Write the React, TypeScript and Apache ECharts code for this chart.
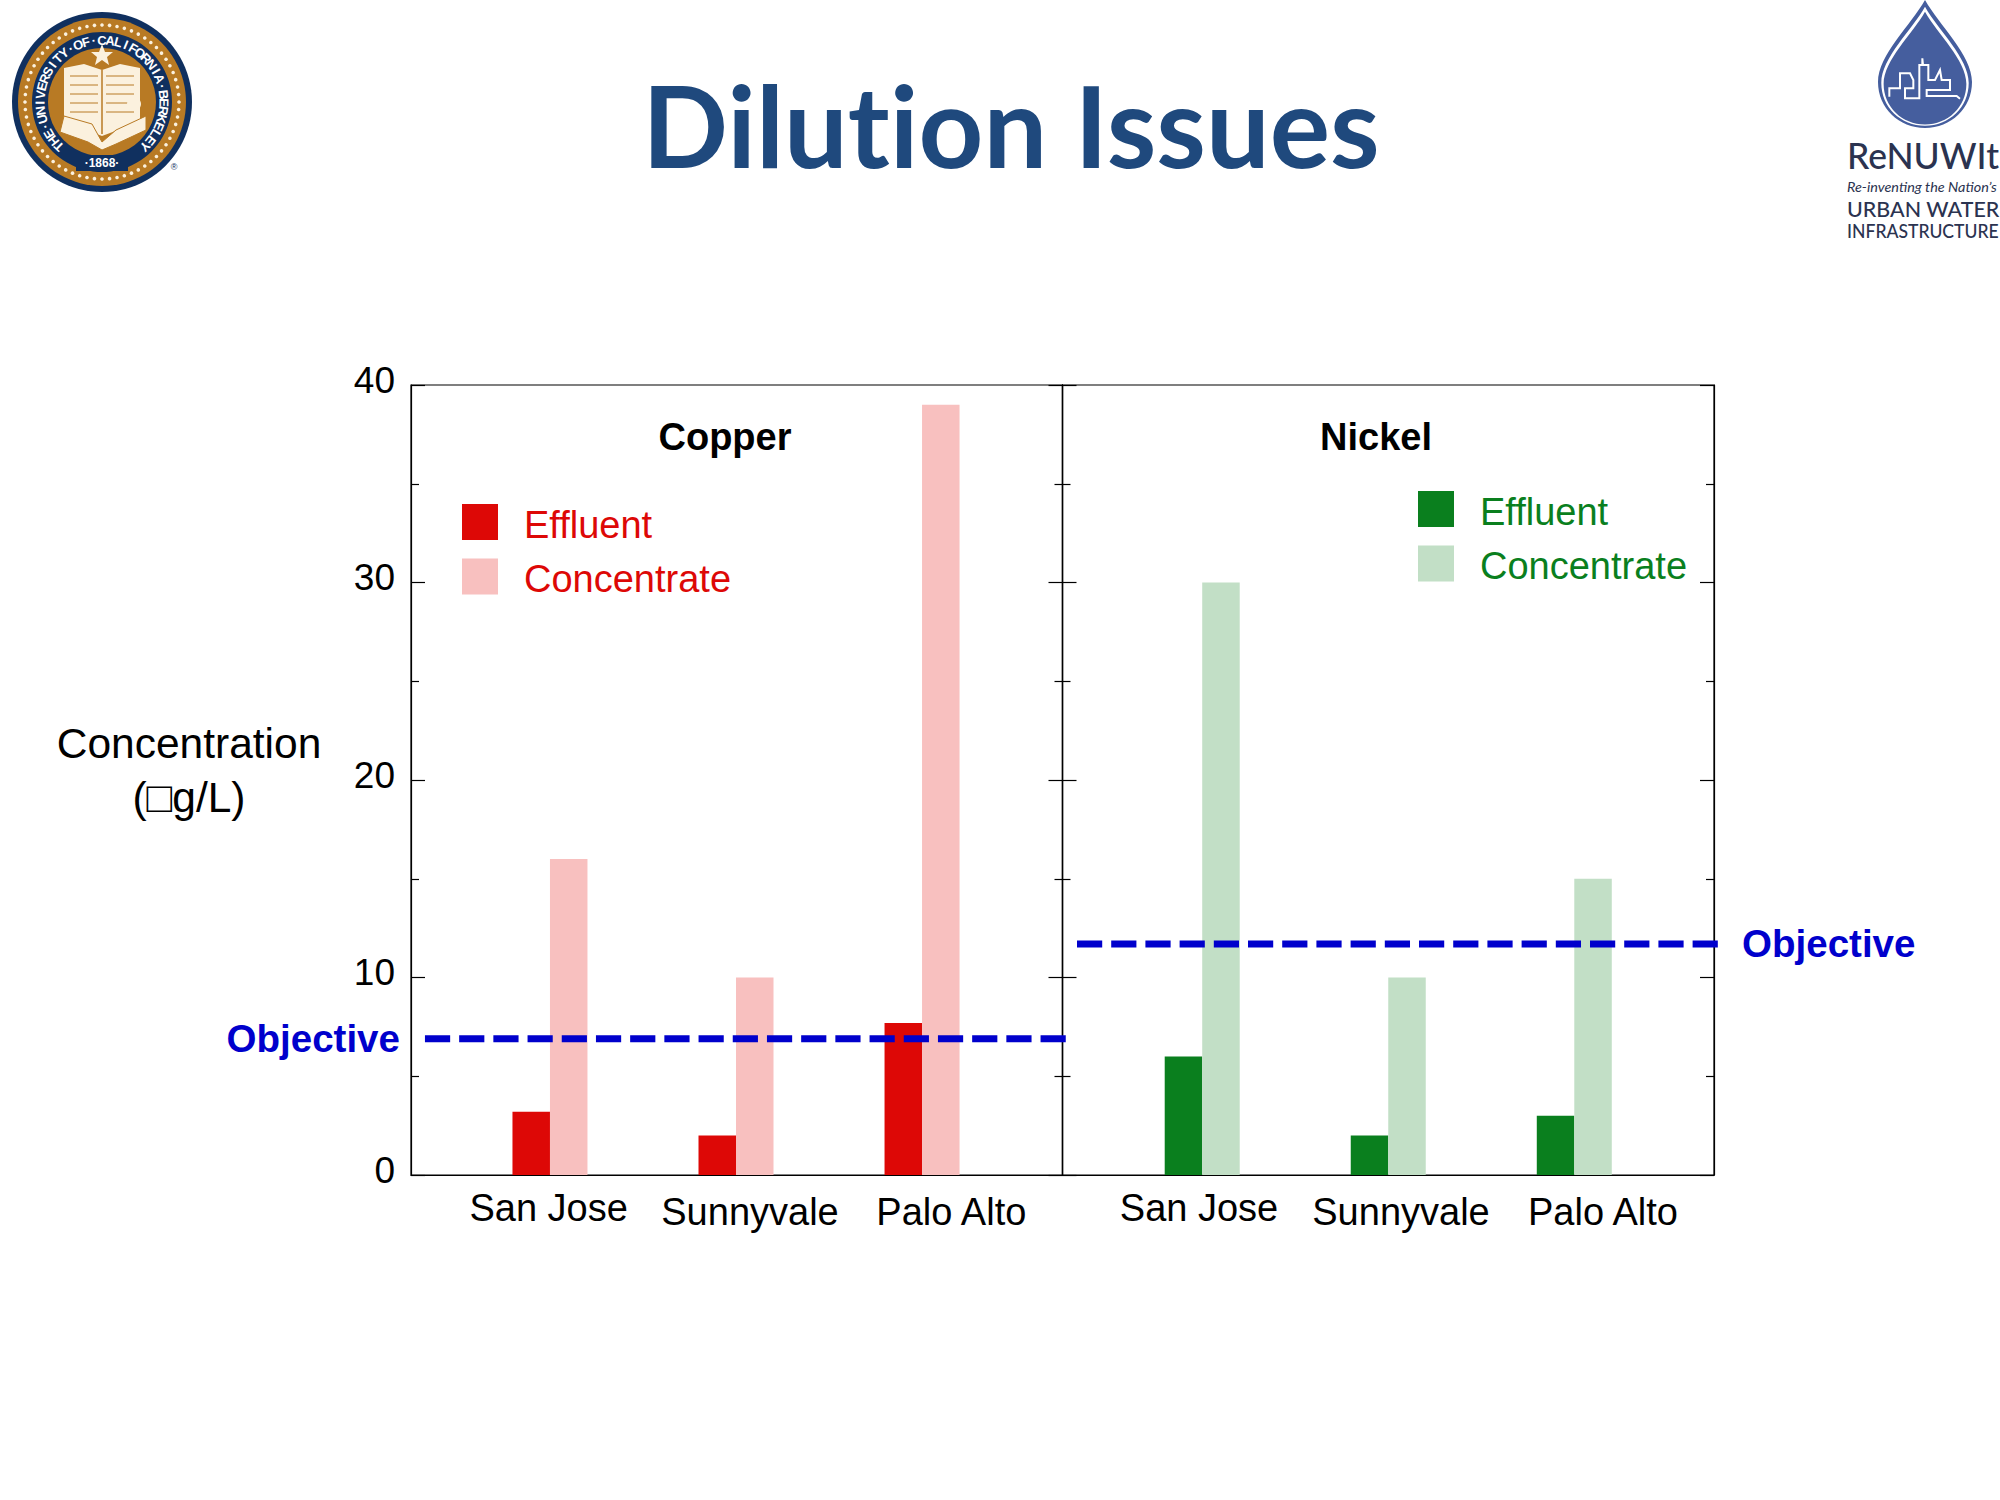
import React, { useEffect, useRef } from "react";
import * as echarts from "echarts";

const CITIES = ["San Jose", "Sunnyvale", "Palo Alto"];
const BAR_POSITIONS = [1, 2, 3];
const COPPER_EFFLUENT = [3.2, 2, 7.7];
const COPPER_CONCENTRATE = [16, 10, 39];
const NICKEL_EFFLUENT = [6, 2, 3];
const NICKEL_CONCENTRATE = [30, 10, 15];
const COPPER_OBJECTIVE = 6.9;
const NICKEL_OBJECTIVE = 11.7;
const OBJECTIVE_SPAN_COPPER = [0.328, 3.775];
const OBJECTIVE_SPAN_NICKEL = [0.327, 3.773];
const Y_MIN = 0;
const Y_MAX = 40;
const Y_STEP = 10;
const SEAL_TEXT = "THE·UNIVERSITY·OF·CALIFORNIA·BERKELEY";
const SKYLINE = [
  [268, 290], [268, 265], [300, 265], [300, 220], [330, 220], [340, 240], [340, 265], [315, 265], [315, 295],
  [358, 295], [358, 195], [367, 195], [367, 175], [369, 195], [385, 195], [385, 240], [405, 240], [420, 210],
  [425, 240], [450, 240], [450, 270], [380, 270], [380, 288], [470, 288], [480, 296],
];

const RED = "#DD0806";
const PINK = "#F8C0BF";
const GREEN = "#0A7F1E";
const LIGHT_GREEN = "#C2DFC6";
const BLUE = "#0000CC";
const FONT = "Liberation Sans";
const NAVY = "#10305F";
const GOLD = "#B87A24";
const CREAM = "#FBF1DE";
const DROP = "#455E9E";
const INK = "#2B3350";

echarts.graphic.registerShape(
  "dropShape",
  echarts.graphic.extendPath(
    "M0 -82 C-14 -57 -47 -27 -47 0 C-47 26 -26 46 0 46 C26 46 47 26 47 0 C47 -27 14 -57 0 -82 Z",
    {}
  )
);

function sealGraphic() {
  const cx = 102;
  const cy = 102;
  const els: any[] = [
    { type: "circle", shape: { cx, cy, r: 90 }, style: { fill: NAVY } },
    { type: "circle", shape: { cx, cy, r: 84 }, style: { fill: GOLD } },
    { type: "circle", shape: { cx, cy, r: 70 }, style: { fill: NAVY } },
    { type: "circle", shape: { cx, cy, r: 54 }, style: { fill: GOLD } },
  ];
  for (let i = 0; i < 64; i++) {
    const a = (i / 64) * Math.PI * 2;
    els.push({
      type: "circle",
      shape: { cx: cx + 77 * Math.cos(a), cy: cy + 77 * Math.sin(a), r: 1.8 },
      style: { fill: CREAM },
    });
  }
  const chars = SEAL_TEXT.split("");
  chars.forEach((c, i) => {
    const deg = -136 + (272 * i) / (chars.length - 1);
    const a = (deg * Math.PI) / 180;
    els.push({
      type: "text",
      x: cx + 62 * Math.sin(a),
      y: cy - 62 * Math.cos(a),
      rotation: -a,
      style: {
        text: c, fill: "#FFFFFF", font: `bold 13px ${FONT}`, align: "center", verticalAlign: "middle",
      },
    });
  });
  els.push(
    { type: "polygon", shape: { points: [[64, 68], [84, 64], [102, 70], [120, 64], [140, 68], [140, 132], [118, 130], [102, 136], [86, 130], [64, 132]] }, style: { fill: CREAM } },
    { type: "line", shape: { x1: 102, y1: 70, x2: 102, y2: 134 }, style: { stroke: GOLD, lineWidth: 1.5 } },
    { type: "polygon", shape: { points: [[102, 44], [105, 52], [113, 52], [107, 57], [109, 65], [102, 60], [95, 65], [97, 57], [91, 52], [99, 52]] }, style: { fill: CREAM } }
  );
  for (let i = 0; i < 5; i++) {
    const y = 76 + i * 9;
    els.push(
      { type: "line", shape: { x1: 70, y1: y, x2: 98, y2: y }, style: { stroke: GOLD, lineWidth: 1 } },
      { type: "line", shape: { x1: 106, y1: y, x2: 134, y2: y }, style: { stroke: GOLD, lineWidth: 1 } }
    );
  }
  els.push(
    { type: "polygon", shape: { points: [[64, 116], [92, 124], [102, 142], [116, 130], [146, 116], [146, 130], [116, 144], [102, 150], [88, 142], [60, 132]] }, style: { fill: CREAM, stroke: GOLD, lineWidth: 1 } },
    { type: "circle", shape: { cx: 134, cy: 104, r: 7 }, style: { fill: CREAM } },
    { type: "rect", shape: { x: 76, y: 155, width: 52, height: 16 }, style: { fill: NAVY } },
    { type: "text", x: 102, y: 163, style: { text: "·1868·", fill: "#FFFFFF", font: `bold 12px ${FONT}`, align: "center", verticalAlign: "middle" } },
    { type: "text", x: 174, y: 167, style: { text: "®", fill: NAVY, font: `9px ${FONT}`, align: "center", verticalAlign: "middle" } }
  );
  return els;
}

function renuwitGraphic() {
  const left = 1847;
  const ox = 1800;
  const skyline = SKYLINE.map(([x, y]) => [ox + x / 3, y / 3]);
  const base = { x: 1925, y: 82 };
  const txt = (text: string, y: number, font: string, scaleX: number) => ({
    type: "text",
    x: left,
    y,
    scaleX,
    style: { text, fill: INK, font, align: "left", verticalAlign: "middle" },
  });
  return [
    { type: "dropShape", ...base, style: { fill: DROP } },
    { type: "dropShape", ...base, y: 83, scaleX: 0.93, scaleY: 0.93, style: { fill: "#FFFFFF" } },
    { type: "dropShape", ...base, y: 84, scaleX: 0.88, scaleY: 0.88, style: { fill: DROP } },
    { type: "polyline", shape: { points: skyline }, style: { stroke: "#FFFFFF", lineWidth: 2, fill: null } },
    txt("ReNUWIt", 155, "500 36px Lato", 0.985),
    txt("Re-inventing the Nation’s", 187, "italic 13px Lato", 1.11),
    txt("URBAN WATER", 209, "500 22px Lato", 0.975),
    txt("INFRASTRUCTURE", 231, "500 19px Lato", 0.925),
  ];
}

const tickLine = { color: "#000", width: 1.2 };

function yAxis(gridIndex: number, position: string, labels: boolean) {
  return {
    type: "value",
    gridIndex,
    position,
    min: Y_MIN,
    max: Y_MAX,
    interval: Y_STEP,
    splitLine: { show: false },
    axisLine: { show: true, onZero: false, lineStyle: tickLine },
    axisTick: { show: true, inside: true, length: 14, lineStyle: tickLine },
    minorTick: { show: true, splitNumber: 2, length: 8, lineStyle: tickLine },
    axisLabel: {
      show: labels, color: "#000", fontFamily: FONT, fontSize: 37, margin: 16, verticalAlign: "bottom", lineHeight: 10,
    },
  };
}

function barX(gridIndex: number, min: number) {
  return {
    type: "value",
    gridIndex,
    min,
    max: min + 3.502,
    axisLine: { show: true, onZero: false, lineStyle: tickLine },
    axisTick: { show: false },
    axisLabel: { show: false },
    splitLine: { show: false },
  };
}

function labelX(gridIndex: number) {
  return {
    type: "category",
    gridIndex,
    data: CITIES,
    axisLine: { show: false },
    axisTick: { show: false },
    axisLabel: {
      color: "#000",
      fontFamily: FONT,
      fontSize: 38,
      margin: 18,
      interval: 0,
      formatter: (v: string) => (v === CITIES[0] ? `{up|${v}}` : v),
      rich: { up: { color: "#000", fontFamily: FONT, fontSize: 38, lineHeight: 30 } },
    },
  };
}

function bars(name: string, values: number[], color: string, axis: number) {
  return {
    name,
    type: "bar",
    xAxisIndex: axis,
    yAxisIndex: axis * 2,
    barWidth: 37.5,
    barGap: "0%",
    itemStyle: { color },
    data: values.map((v, i) => [BAR_POSITIONS[i], v]),
  };
}

function objective(value: number, span: number[], axis: number, side: string, distance: number) {
  const label = {
    show: true, position: side, distance, formatter: "Objective", color: BLUE, fontFamily: FONT, fontWeight: "bold", fontSize: 38.5,
  };
  const first = side === "left";
  return {
    name: "Objective",
    type: "line",
    xAxisIndex: axis,
    yAxisIndex: axis * 2,
    clip: false,
    z: 10,
    symbol: "circle",
    symbolSize: 0.01,
    showSymbol: true,
    lineStyle: { color: BLUE, width: 7, type: [25.2, 9] },
    itemStyle: { color: BLUE },
    data: [
      { value: [span[0], value], label: first ? label : { show: false } },
      { value: [span[1], value], label: first ? { show: false } : label },
    ],
  };
}

function legend(left: number, top: number, a: string, b: string, color: string) {
  return {
    left,
    top,
    orient: "vertical",
    icon: "rect",
    itemWidth: 36,
    itemHeight: 36,
    itemGap: 15,
    selectedMode: false,
    formatter: "{t|{name}}",
    textStyle: {
      color,
      fontFamily: FONT,
      fontSize: 38,
      rich: { t: { color, fontFamily: FONT, fontSize: 38, padding: [5, 0, 0, 21] } },
    },
    data: [
      { name: "Effluent", itemStyle: { color: a } },
      { name: "Concentrate", itemStyle: { color: b } },
    ],
  };
}

function panelTitle(text: string, left: number) {
  return {
    text,
    left,
    top: 413,
    textAlign: "center",
    textStyle: { color: "#000", fontFamily: FONT, fontWeight: "bold", fontSize: 38 },
  };
}

export default function App() {
  const ref = useRef<HTMLDivElement>(null);
  useEffect(() => {
    document.body.style.margin = "0";
    const chart = echarts.init(ref.current!, undefined, { renderer: "svg" });
    chart.setOption({
      animation: false,
      backgroundColor: "#FFFFFF",
      title: [
        {
          text: "Dilution Issues",
          left: 1006,
          top: 62,
          textAlign: "center",
          textStyle: { color: "#1F497D", fontFamily: "Lato", fontWeight: "bold", fontSize: 113 },
        },
        panelTitle("Copper", 720),
        panelTitle("Nickel", 1371),
        {
          text: "Concentration\n(□g/L)",
          left: 184,
          top: 711,
          textAlign: "center",
          textStyle: { color: "#000", fontFamily: FONT, fontWeight: "normal", fontSize: 42.5, lineHeight: 54 },
        },
      ],
      legend: [
        legend(457, 499, RED, PINK, RED),
        legend(1413, 486, GREEN, LIGHT_GREEN, GREEN),
      ],
      grid: [
        { left: 411, top: 385, width: 651.5, height: 790, show: true, borderColor: "#000", borderWidth: 1.2 },
        { left: 1062.5, top: 385, width: 651.5, height: 790, show: true, borderColor: "#000", borderWidth: 1.2 },
        { left: 448, top: 385, width: 604, height: 790 },
        { left: 1098, top: 385, width: 606, height: 790 },
      ],
      xAxis: [barX(0, 0.253), barX(1, 0.249), labelX(2), labelX(3)],
      yAxis: [
        yAxis(0, "left", true),
        yAxis(0, "right", false),
        yAxis(1, "left", false),
        yAxis(1, "right", false),
        { type: "value", gridIndex: 2, show: false },
        { type: "value", gridIndex: 3, show: false },
      ],
      series: [
        bars("Effluent", COPPER_EFFLUENT, RED, 0),
        bars("Concentrate", COPPER_CONCENTRATE, PINK, 0),
        bars("Effluent", NICKEL_EFFLUENT, GREEN, 1),
        bars("Concentrate", NICKEL_CONCENTRATE, LIGHT_GREEN, 1),
        objective(COPPER_OBJECTIVE, OBJECTIVE_SPAN_COPPER, 0, "left", 25),
        objective(NICKEL_OBJECTIVE, OBJECTIVE_SPAN_NICKEL, 1, "right", 24),
      ],
      graphic: [...sealGraphic(), ...renuwitGraphic()],
    });
    return () => chart.dispose();
  }, []);
  return (
    <div
      ref={ref}
      style={{ position: "absolute", left: 0, top: 0, width: 2000, height: 1500, fontVariantLigatures: "none" }}
    />
  );
}
